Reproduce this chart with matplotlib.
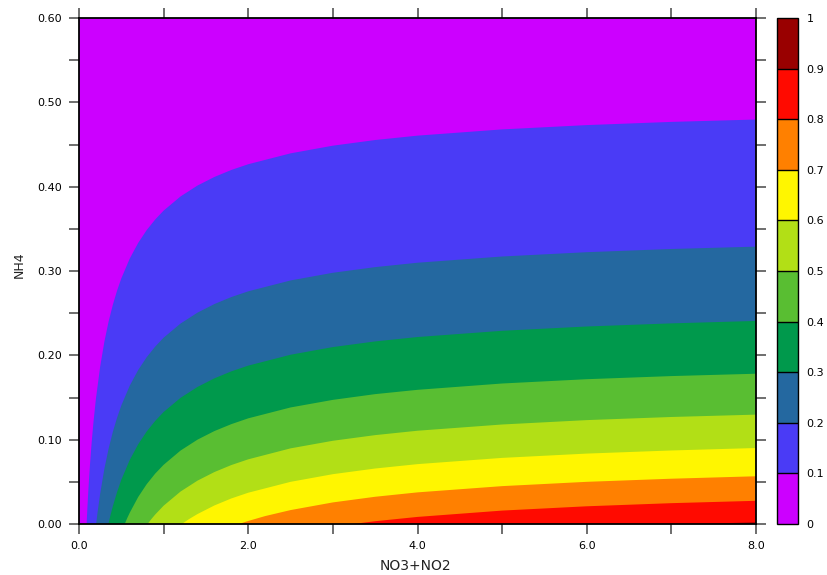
import matplotlib
matplotlib.use('Agg')
import matplotlib.pyplot as plt
from matplotlib.colors import ListedColormap, BoundaryNorm
from matplotlib.cm import ScalarMappable
from matplotlib.ticker import MultipleLocator, FormatStrFormatter

# colour of each band, 0-0.1 ... 0.9-1
band_colors = ['#cc00ff', '#4a3bf6', '#2468a0', '#00994c', '#59be32',
               '#b2df16', '#fff600', '#ff8000', '#ff0a00', '#990000']
bounds = [0, 0.1, 0.2, 0.3, 0.4, 0.5, 0.6, 0.7, 0.8, 0.9, 1.0]
bound_labels = ['0', '0.1', '0.2', '0.3', '0.4', '0.5', '0.6', '0.7', '0.8', '0.9', '1']

# contour lines: NO3+NO2 vs NH4
c01_no3 = [0.09, 0.095, 0.10, 0.11, 0.12, 0.13, 0.15, 0.17, 0.20, 0.25, 0.30, 0.35, 0.40, 0.45, 0.50,
           0.60, 0.70, 0.80, 0.90, 1.0, 1.2, 1.4, 1.6, 1.8, 2.0, 2.5, 3.0, 3.5, 4.0, 5.0, 6.0, 7.0, 8.0]
c01_nh4 = [0.0, 0.0105, 0.0205, 0.0389, 0.0554, 0.0705, 0.0970, 0.1197, 0.1485, 0.1865, 0.2162, 0.2401,
           0.2600, 0.2767, 0.2912, 0.3148, 0.3334, 0.3485, 0.3610, 0.3716, 0.3884, 0.4013, 0.4115, 0.4198,
           0.4266, 0.4395, 0.4486, 0.4553, 0.4605, 0.4679, 0.4730, 0.4768, 0.4796]

c02_no3 = [0.2025, 0.22, 0.25, 0.30, 0.35, 0.40, 0.45, 0.50, 0.60, 0.70, 0.80, 0.90, 1.0, 1.2, 1.4, 1.6,
           1.8, 2.0, 2.5, 3.0, 3.5, 4.0, 5.0, 6.0, 7.0, 8.0]
c02_nh4 = [0.0, 0.0143, 0.0358, 0.0655, 0.0894, 0.1093, 0.1260, 0.1405, 0.1641, 0.1827, 0.1978, 0.2103,
           0.2209, 0.2377, 0.2506, 0.2608, 0.2691, 0.2759, 0.2888, 0.2979, 0.3046, 0.3098, 0.3172, 0.3223,
           0.3261, 0.3289]

c03_no3 = [0.347, 0.37, 0.40, 0.45, 0.50, 0.60, 0.70, 0.80, 0.90, 1.0, 1.2, 1.4, 1.6, 1.8, 2.0, 2.5, 3.0,
           3.5, 4.0, 5.0, 6.0, 7.0, 8.0]
c03_nh4 = [0.0, 0.0096, 0.0211, 0.0379, 0.0524, 0.0760, 0.0946, 0.1097, 0.1222, 0.1328, 0.1496, 0.1625,
           0.1727, 0.1810, 0.1878, 0.2007, 0.2098, 0.2165, 0.2217, 0.2291, 0.2342, 0.2379, 0.2408]

c04_no3 = [0.54, 0.57, 0.60, 0.70, 0.80, 0.90, 1.0, 1.2, 1.4, 1.6, 1.8, 2.0, 2.5, 3.0, 3.5, 4.0, 5.0, 6.0,
           7.0, 8.0]
c04_nh4 = [0.0, 0.0070, 0.0134, 0.0321, 0.0472, 0.0597, 0.0702, 0.0871, 0.1000, 0.1102, 0.1184, 0.1253,
           0.1382, 0.1472, 0.1540, 0.1591, 0.1666, 0.1717, 0.1754, 0.1782]

c05_no3 = [0.81, 0.85, 0.90, 1.0, 1.2, 1.4, 1.6, 1.8, 2.0, 2.5, 3.0, 3.5, 4.0, 5.0, 6.0, 7.0, 8.0]
c05_nh4 = [0.0, 0.0052, 0.0112, 0.0217, 0.0385, 0.0514, 0.0616, 0.0699, 0.0767, 0.0897, 0.0987, 0.1054,
           0.1106, 0.1180, 0.1232, 0.1269, 0.1297]

c06_no3 = [1.215, 1.3, 1.4, 1.6, 1.8, 2.0, 2.5, 3.0, 3.5, 4.0, 5.0, 6.0, 7.0, 8.0]
c06_nh4 = [0.0, 0.0058, 0.0118, 0.0220, 0.0303, 0.0371, 0.0500, 0.0591, 0.0658, 0.0710, 0.0784, 0.0835,
           0.0872, 0.0901]

c07_no3 = [1.89, 2.0, 2.2, 2.5, 3.0, 3.5, 4.0, 5.0, 6.0, 7.0, 8.0]
c07_nh4 = [0.0, 0.0036, 0.0094, 0.0165, 0.0256, 0.0323, 0.0375, 0.0449, 0.0500, 0.0537, 0.0566]

c08_no3 = [3.24, 3.5, 4.0, 5.0, 6.0, 7.0, 8.0]
c08_nh4 = [0.0, 0.0033, 0.0084, 0.0159, 0.0210, 0.0247, 0.0275]

c09_no3 = [7.29, 7.6, 8.0]
c09_nh4 = [0.0, 0.0009, 0.0020]

contours = [(c01_no3, c01_nh4), (c02_no3, c02_nh4), (c03_no3, c03_nh4),
            (c04_no3, c04_nh4), (c05_no3, c05_nh4), (c06_no3, c06_nh4),
            (c07_no3, c07_nh4), (c08_no3, c08_nh4), (c09_no3, c09_nh4)]

fig = plt.figure(figsize=(8.27, 5.75), dpi=100)
ax = fig.add_axes([79/827, 51/575, 677/827, 506/575])
ax.set_facecolor(band_colors[0])

# paint each band below its lower contour line, lowest value first
for i, (xs, ys) in enumerate(contours):
    px = list(xs) + [xs[-1]]
    py = list(ys) + [0.0]
    ax.fill(px, py, color=band_colors[i + 1], lw=0)

ax.set_xlim(0, 8)
ax.set_ylim(0, 0.6)
ax.xaxis.set_major_locator(MultipleLocator(2))
ax.xaxis.set_minor_locator(MultipleLocator(1))
ax.yaxis.set_major_locator(MultipleLocator(0.1))
ax.yaxis.set_minor_locator(MultipleLocator(0.05))
ax.xaxis.set_major_formatter(FormatStrFormatter('%.1f'))
ax.yaxis.set_major_formatter(FormatStrFormatter('%.2f'))
ax.tick_params(which='both', direction='out', length=7, width=1.2, color='#555555',
               top=True, right=True, labelsize=8, pad=5)
for s in ax.spines.values():
    s.set_linewidth(1.3)
    s.set_color('black')

fig.text(415/827, 1 - 566/575, 'NO3+NO2', ha='center', va='center', fontsize=10, color='#222222')
fig.text(19/827, 1 - 265/575, 'NH4', ha='center', va='center', rotation=90, fontsize=9, color='#222222')

# colour key
cax = fig.add_axes([777/827, 51/575, 21/827, 506/575])
cmap = ListedColormap(band_colors)
norm = BoundaryNorm(bounds, cmap.N)
cb = fig.colorbar(ScalarMappable(norm=norm, cmap=cmap), cax=cax, ticks=bounds, drawedges=True)
cb.ax.set_yticklabels(bound_labels)
cb.ax.tick_params(length=0, labelsize=8, pad=6)
cb.outline.set_linewidth(1.0)
cb.dividers.set_linewidth(1.0)

fig.savefig('out.png', dpi=100)
